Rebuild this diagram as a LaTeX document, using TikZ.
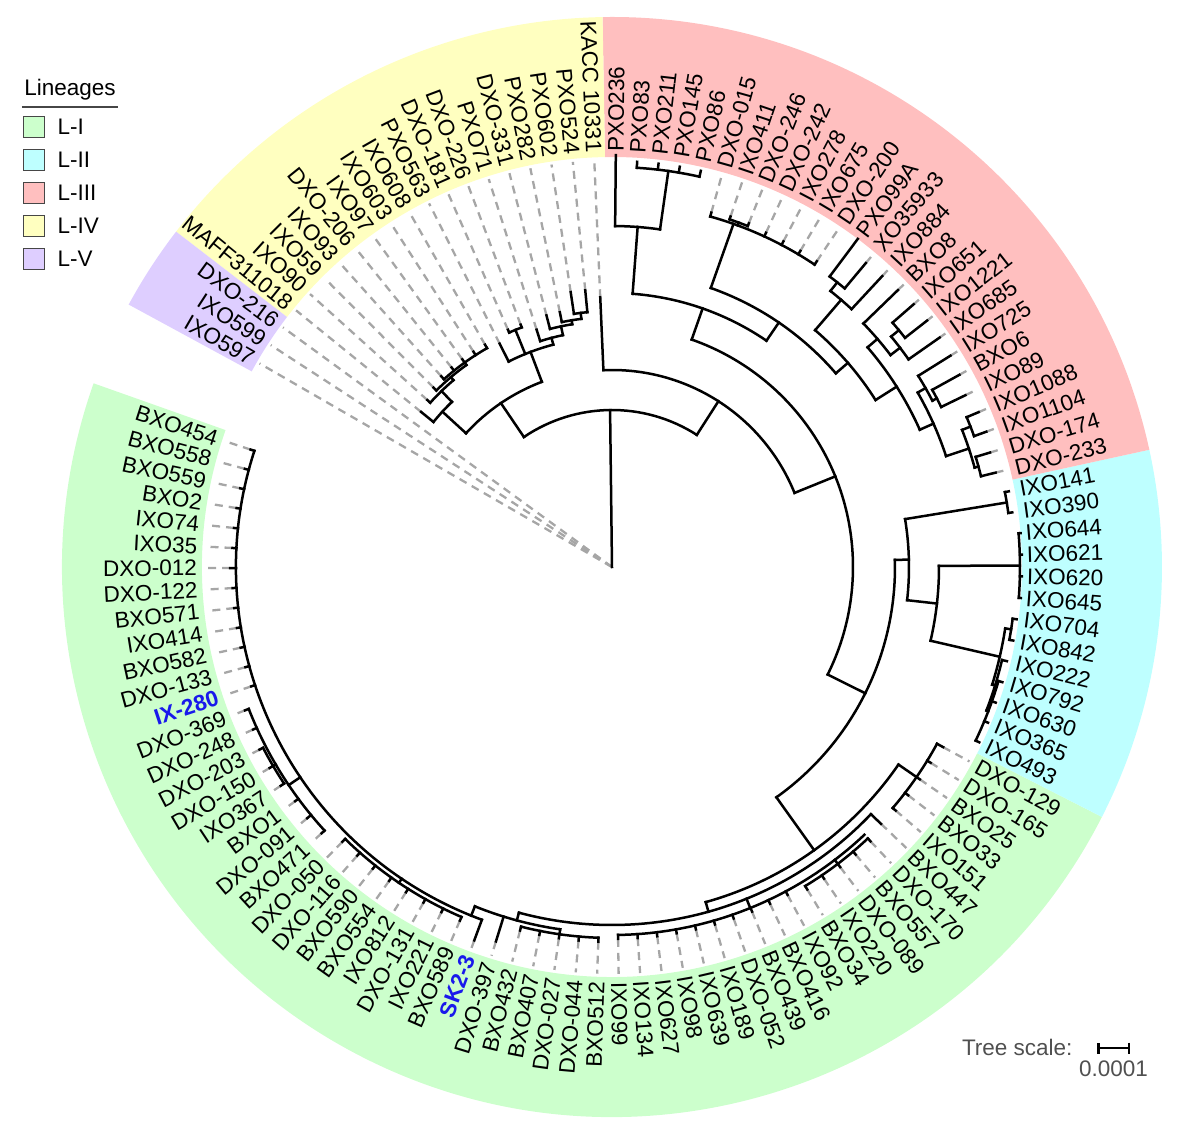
\documentclass[tikz,border=0pt]{standalone}
\usepackage{fontspec}
\setmainfont{Liberation Sans}
\usetikzlibrary{arrows.meta}

\definecolor{bandI}{RGB}{204,255,204}
\definecolor{bandII}{RGB}{190,255,255}
\definecolor{bandIII}{RGB}{255,191,191}
\definecolor{bandIV}{RGB}{255,255,192}
\definecolor{bandV}{RGB}{222,206,255}
\definecolor{leadgray}{RGB}{166,166,166}
\definecolor{legedge}{RGB}{70,70,70}
\definecolor{scalegray}{RGB}{80,80,80}
\definecolor{hlblue}{RGB}{25,25,235}

\newcommand{\labfont}{\fontsize{22.5}{26}\selectfont}
% radial branch: angle, from radius, to radius
\newcommand{\Rad}[3]{\draw[branch] (#1:#2pt) -- (#1:#3pt);}
% node arc: radius, from angle, to angle
\newcommand{\Arc}[3]{\draw[branch] (#2:#1pt) arc[start angle=#2, end angle=#3, radius=#1pt];}

\tikzset{
  branch/.style={line width=2.5pt, line cap=rect},
  leader/.style={draw=leadgray, line width=2.3pt, dash pattern=on 8pt off 6pt},
  leaflab/.style={font=\labfont, inner sep=0pt},
  legbox/.style={draw=legedge, line width=1.3pt, minimum size=21pt, inner sep=0pt},
}

\begin{document}
\begin{tikzpicture}[x=1pt,y=1pt]
  \useasboundingbox (-612,-570) rectangle (569,567);

  % LINEAGE BANDS
  \foreach \col/\aa/\ab in {bandI/160.49/332.97, bandII/332.97/372.31,
      bandIII/12.31/90.98, bandIV/90.98/142.43, bandV/142.43/151.5}{
    \fill[\col] (\aa:410pt) arc[start angle=\aa, end angle=\ab, radius=410pt]
      -- (\ab:550pt) arc[start angle=\ab, end angle=\aa, radius=550pt] -- cycle;
  }

  % LEAVES: index / label / parent radius / tip radius
  \foreach \i/\nm/\rp/\rt in {
      0/BXO454/376/380, 1/BXO558/376/380, 2/BXO559/376/380, 3/BXO2/376/380,
      4/IXO74/376/380, 5/IXO35/376/380, 6/DXO-012/376/382, 7/DXO-122/376/380,
      8/BXO571/376/380, 9/IXO414/376/380, 10/BXO582/376/380, 11/DXO-133/376/380,
      12/{\textbf{\color{hlblue}IX-280}}/376/380,
      13/DXO-369/390/394, 14/DXO-248/390/394, 15/DXO-203/393/397, 16/DXO-150/393/397,
      17/IXO367/393/397, 18/BXO1/390/394, 19/DXO-091/390/395, 20/BXO471/390/394,
      21/DXO-050/381/385, 22/DXO-116/381/385, 23/BXO590/381/385, 24/BXO554/381/385,
      25/IXO812/381/385, 26/DXO-131/381/385, 27/IXO221/381/385, 28/BXO589/381/385,
      29/{\textbf{\color{hlblue}SK2-3}}/376/398,
      30/DXO-397/366/392, 31/BXO432/371/375, 32/BXO407/371/375, 33/DXO-027/371/375,
      34/DXO-044/371/375, 35/BXO512/371/375, 36/IXO99/368/372, 37/IXO134/368/372,
      38/IXO627/368/372, 39/IXO98/368/372, 40/IXO639/368/372, 41/IXO189/368/372,
      42/DXO-052/368/372, 43/BXO439/368/372, 44/BXO416/368/372, 45/IXO92/368/372,
      46/BXO34/373/377, 47/IXO220/373/377, 48/DXO-089/373/377, 49/BXO557/373/377,
      50/DXO-170/373/377, 51/BXO447/358/372, 52/IXO151/370/374, 53/BXO33/370/374,
      54/BXO25/370/374, 55/DXO-165/370/374, 56/DXO-129/370/377,
      57/IXO493/403/407, 58/IXO365/403/407, 59/IXO630/403/407, 60/IXO792/403/407,
      61/IXO222/401/406, 62/IXO842/404/408, 63/IXO704/404/408, 64/IXO645/408/410,
      65/IXO620/408/410, 66/IXO621/408/410, 67/IXO644/408/410, 68/IXO390/400/404,
      69/IXO141/400/404,
      70/DXO-233/380/395, 71/DXO-174/380/395, 72/IXO1104/385/398, 73/IXO1088/385/398,
      74/IXO89/366/393, 75/BXO6/366/397, 76/IXO725/361/399, 77/IXO685/362/400,
      78/IXO1221/372/400, 79/IXO651/372/400, 80/BXO8/350/398, 81/IXO884/352/397,
      82/XO35933/363/396, 83/PXO99A/363/410, 84/DXO-200/364/368, 85/IXO675/364/368,
      86/IXO278/364/368, 87/DXO-242/364/368, 88/DXO-246/367/370, 89/IXO411/367/370,
      90/DXO-015/364/368, 91/PXO86/400/406, 92/PXO145/400/406, 93/PXO211/400/406,
      94/PXO83/400/406, 95/PXO236/341/412, 96/KACC 10331/197/270,
      97/PXO524/256/278, 98/PXO602/256/278, 99/PXO282/250/260, 100/DXO-331/246/260,
      101/PXO71/237/249, 102/DXO-226/256/259, 103/DXO-181/256/259, 104/PXO563/230/250,
      105/IXO608/252/256, 106/IXO603/252/256, 107/IXO97/252/256, 108/DXO-206/252/256,
      109/IXO93/252/256, 110/IXO59/249/253, 111/IXO90/245/249, 112/MAFF311018/230/246,
      113/DXO-216/0/0, 114/IXO599/0/0, 115/IXO597/0/0}{
    \pgfmathsetmacro\ang{162+3.026*\i}
    \pgfmathsetmacro\side{cos(\ang)}
    \coordinate (t\i) at (\ang:\rt pt);
    \coordinate (e\i) at (\ang:407pt);
    \ifdim\rt pt<403pt \draw[leader] (t\i) -- (e\i); \fi
    \ifdim\rp pt<\rt pt \draw[branch] (\ang:\rp pt) -- (t\i); \fi
    \ifdim\side pt<0pt
      \pgfmathsetmacro\rot{\ang-180}
      \node[leaflab, rotate=\rot, anchor=east] (n\i) at (\ang:415pt) {\nm};
    \else
      \node[leaflab, rotate=\ang, anchor=west] (n\i) at (\ang:415pt) {\nm};
    \fi
  }

  % ROOT AND BACKBONE
  \Rad{90.7}{0}{157}
  \Arc{157}{57.3}{124.13}
  \Rad{57.3}{157}{197}
  \Arc{197}{22.09}{92.50}
  \Rad{22.09}{197}{241}
  \Arc{241}{-26.5}{70.685}

  % L-IV CLADE
  \Rad{124.13}{157}{198}
  \Arc{198}{110.745}{137.51}
  \Rad{110.745}{198}{230}
  \Arc{230}{104.79}{116.70}
  \Rad{112.165}{230}{256}
  \Arc{256}{110.65}{113.68}
  \Rad{104.79}{230}{237}
  \Arc{237}{101.95}{107.63}
  \Rad{101.95}{237}{246}
  \Arc{246}{99.30}{104.60}
  \Rad{99.30}{246}{250}
  \Arc{250}{97.035}{101.57}
  \Rad{97.035}{250}{256}
  \Arc{256}{95.52}{98.55}
  \Rad{137.51}{198}{230}
  \Arc{230}{134.105}{140.91}
  \Rad{134.105}{230}{245}
  \Arc{245}{130.32}{137.89}
  \Rad{130.32}{245}{249}
  \Arc{249}{125.78}{134.86}
  \Rad{125.78}{249}{252}
  \Arc{252}{119.73}{131.83}

  % L-III CLADE
  \Rad{70.685}{241}{274}
  \Arc{274}{55.685}{85.685}
  \Rad{85.685}{274}{341}
  \Arc{341}{81.9}{89.47}
  \Rad{81.9}{341}{400}
  \Arc{400}{77.37}{86.44}
  \Rad{55.685}{274}{296}
  \Arc{296}{40.87}{70.5}
  \Rad{70.5}{296}{364}
  \Arc{364}{56.18}{74.34}
  \Rad{69.8}{364}{367}
  \Arc{367}{68.29}{71.31}
  \Rad{40.87}{296}{312}
  \Arc{312}{32.355}{49.38}
  \Rad{49.38}{312}{352}
  \Arc{352}{47.11}{51.645}
  \Rad{51.645}{352}{363}
  \Arc{363}{50.13}{53.16}
  \Rad{32.355}{312}{337}
  \Arc{337}{24.035}{40.675}
  \Rad{40.675}{337}{350}
  \Arc{350}{37.27}{44.08}
  \Rad{37.27}{350}{362}
  \Arc{362}{35.00}{39.54}
  \Rad{39.54}{362}{372}
  \Arc{372}{38.03}{41.05}
  \Rad{24.035}{337}{352}
  \Arc{352}{18.36}{29.71}
  \Rad{29.71}{352}{361}
  \Arc{361}{27.435}{31.98}
  \Rad{27.435}{361}{366}
  \Arc{366}{25.92}{28.95}
  \Rad{18.36}{352}{376}
  \Arc{376}{15.335}{21.385}
  \Rad{21.385}{376}{385}
  \Arc{385}{19.87}{22.90}
  \Rad{15.335}{376}{380}
  \Arc{380}{13.82}{16.85}

  % L-II CLADE
  \Rad{-26.5}{241}{283}
  \Arc{283}{-54.48}{1.43}
  \Rad{1.43}{283}{297}
  \Arc{297}{-6.4175}{9.28}
  \Rad{9.28}{297}{400}
  \Arc{400}{7.77}{10.79}
  \Rad{-6.4175}{297}{327}
  \Arc{327}{-13.035}{0.2}
  \Rad{0.2}{327}{408}
  \Arc{408}{-4.34}{4.74}
  \Rad{-13.035}{327}{398}
  \Arc{398}{-17.195}{-8.875}
  \Rad{-8.875}{398}{404}
  \Arc{404}{-10.39}{-7.36}
  \Rad{-17.195}{398}{401}
  \Arc{401}{-20.98}{-13.41}
  \Rad{-20.98}{401}{403}
  \Arc{403}{-25.52}{-16.44}

  % L-I CLADE
  \Rad{-54.48}{283}{348}
  \Arc{348}{285.63}{325.405}
  \Rad{325.405}{348}{370}
  \Arc{370}{319.35}{331.46}
  \Rad{285.63}{348}{358}
  \Arc{358}{254.93}{316.33}
  \Rad{292.07}{358}{368}
  \Arc{368}{270.94}{313.30}
  \Rad{307.25}{368}{373}
  \Arc{373}{301.20}{313.30}
  \Rad{254.93}{358}{366}
  \Arc{366}{248}{261.86}
  \Rad{261.86}{366}{371}
  \Arc{371}{255.81}{267.91}
  \Rad{248}{366}{376}
  \Arc{376}{162}{249.75}
  \Rad{236}{376}{381}
  \Arc{381}{225.55}{246.73}
  \Rad{214}{376}{390}
  \Arc{390}{201.34}{222.52}
  \Rad{210.4}{390}{393}
  \Arc{393}{207.39}{213.44}

  % LEGEND
  \node[font=\labfont] (leghead) at (-542,477) {Lineages};
  \draw[legedge, line width=1.3pt] (-590,460) -- (-494,460);
  \foreach \k/\col/\txt in {1/bandI/L-I, 2/bandII/L-II, 3/bandIII/L-III,
      4/bandIV/L-IV, 5/bandV/L-V}{
    \node[legbox, fill=\col] (leg\k) at (-578,{473-33*\k}) {};
    \node[font=\labfont, anchor=west] (legt\k) at ([xshift=9pt]leg\k.east) {\txt};
  }

  % TREE SCALE
  \coordinate (sbl) at (485,-481);
  \coordinate (sbr) at (518,-481);
  \draw[line width=2.5pt, {Bar[width=11pt]}-{Bar[width=11pt]}] (sbl) -- (sbr);
  \node[font=\labfont, text=scalegray, anchor=east] (sbtxt) at (464,-480) {Tree scale:};
  \node[font=\labfont, text=scalegray] (sbval) at (501.5,-502) {0.0001};
\end{tikzpicture}
\end{document}
